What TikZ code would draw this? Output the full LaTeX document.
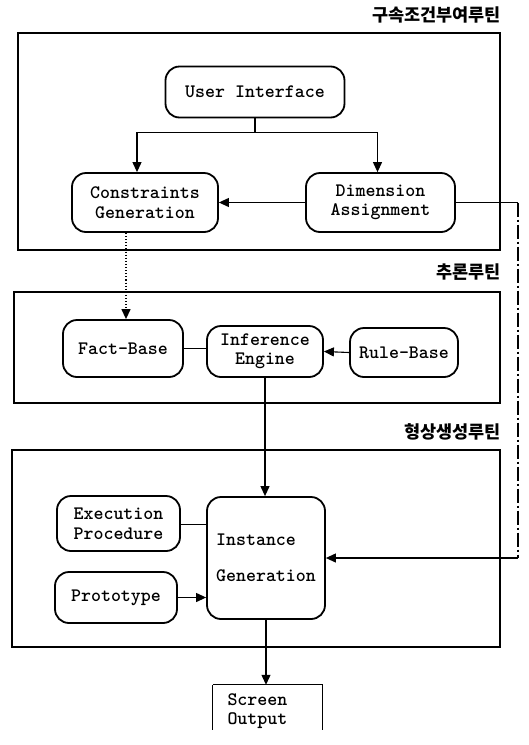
\documentclass[tikz,border=0pt]{standalone}
\usepackage{fontspec}
\newfontfamily\kr{Noto Sans CJK KR}
\usetikzlibrary{arrows.meta}
\begin{document}
\begin{tikzpicture}[x=1pt,y=-1pt,
  rbox/.style={draw, line width=1.8pt, rounded corners=14pt, align=center, inner sep=0pt,
    font=\ttfamily\bfseries\fontsize{19}{19.5}\selectfont},
  txt/.style={font=\ttfamily\bfseries\fontsize{19}{19.5}\selectfont},
  frame/.style={line width=1.1pt},
  conn/.style={line width=1.1pt},
  arr/.style={conn, -{Triangle[length=10pt,width=9pt]}},
  title/.style={anchor=east, inner sep=0pt, font=\kr\bfseries\fontsize{17.5}{17.5}\selectfont}]
\useasboundingbox (0,0) rectangle (529,745);
\fill[white] (0,0) rectangle (529,745);

% group frames and titles
\draw[frame] (18,33) rectangle (500,250);
\draw[frame] (14,292) rectangle (500,403);
\draw[frame] (12,450) rectangle (500,647);
\node[title] (t1) at (501,15) {구속조건부여루틴};
\node[title] (t2) at (501,272) {추론루틴};
\node[title] (t3) at (501,432) {형상생성루틴};

% nodes
\node[rbox, minimum width=179pt, minimum height=51pt] (ui) at (255,92) {User Interface};
\node[rbox, minimum width=146pt, minimum height=59pt] (cg) at (145,202.5) {Constraints\\Generation};
\node[rbox, minimum width=149pt, minimum height=59pt] (da) at (380.5,202.5) {Dimension\\Assignment};
\node[rbox, minimum width=120pt, minimum height=57pt] (fb) at (123,348.5) {Fact-Base};
\node[rbox, minimum width=116pt, minimum height=51pt] (ie) at (265,351.5) {Inference\\Engine};
\node[rbox, minimum width=108pt, minimum height=49pt] (rb) at (404,352.5) {Rule-Base};
\node[rbox, minimum width=123pt, minimum height=55pt] (ep) at (118.5,523.5) {Execution\\Procedure};
\node[rbox, minimum width=122pt, minimum height=51pt] (pt) at (116,597.5) {Prototype};
\node[rbox, align=left, minimum width=118pt, minimum height=122pt] (ig) at (266,558) {Instance\\[17pt]Generation};
\node[txt, align=left, text width=80pt, inner xsep=14.5pt, inner ysep=0pt, minimum height=52pt] (so) at (267.5,711) {Screen\\Output};
\draw[frame] (so.north west) -- (so.north east) -- ++(0,-45pt);
\draw[frame] (so.north west) -- ++(0,-45pt);

% connectors
\coordinate (uj) at ([yshift=-14pt]ui.south);
\draw[arr] (ui.south) -- (uj) -| ([xshift=-8pt]cg.north);
\draw[arr] (uj) -| ([xshift=-3pt]da.north);
\draw[arr] (da.west) -- (cg.east);
\coordinate (r1) at (518,204);
\coordinate (r2) at (518,558);
\draw[conn] (da.east) -- (da.east -| r1);
\draw[conn, dash pattern=on 14pt off 3pt on 2pt off 3pt] (da.east -| r1) -- (r2);
\draw[arr] (r2) -- (ig.east);
\draw[arr, dotted, line width=1.3pt] ([xshift=-19pt]cg.south) -- ([xshift=-19pt]cg.south |- fb.north);
\draw[conn] (fb.east) -- (fb.east -| ie.west);
\draw[arr] (rb.west) -- (ie.east);
\draw[arr] (ie.south) -- (ie.south |- ig.north);
\draw[conn] ([yshift=-1pt]ep.east) -- ([yshift=-1pt]ep.east -| ig.west);
\draw[arr] (pt.east) -- (pt.east -| ig.west);
\draw[arr] (ig.south) -- (ig.south |- so.north);
\end{tikzpicture}
\end{document}
